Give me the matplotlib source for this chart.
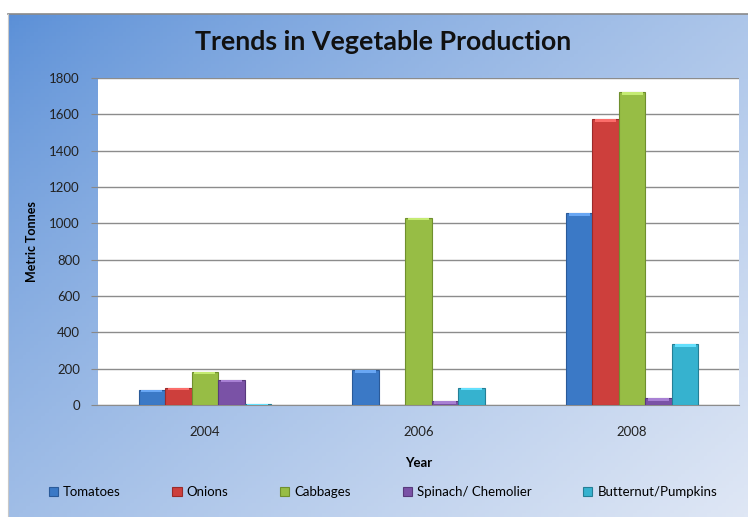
import numpy as np
import matplotlib
matplotlib.use("Agg")
import matplotlib.pyplot as plt
from matplotlib.colors import to_rgb

years = ["2004", "2006", "2008"]
series = ["Tomatoes", "Onions", "Cabbages", "Spinach/ Chemolier", "Butternut/Pumpkins"]
tomatoes = [84, 190, 1055]
onions = [95, 0, 1572]
cabbages = [183, 1030, 1721]
spinach = [140, 20, 37]
butternut = [5, 95, 334]
yticks = [0, 200, 400, 600, 800, 1000, 1200, 1400, 1600, 1800]

values = [tomatoes, onions, cabbages, spinach, butternut]
colors = ["#3b79c6", "#cd3f3c", "#97bd45", "#7a52a6", "#36b2cf"]
edges = ["#2a5a99", "#9a2b2a", "#6f8f2e", "#583a7c", "#247f96"]

plt.rcParams['font.family'] = ['Lato', 'DejaVu Sans']

fig = plt.figure(figsize=(7.48, 5.17), dpi=100)

# gradient background
bg = fig.add_axes([8/748, 0, 740/748, 503/517])
nx, ny = 200, 140
xx, yy = np.meshgrid(np.linspace(0, 1, nx), np.linspace(0, 1, ny))
t = np.clip((xx * 0.55 + yy * 0.45), 0, 1)
c0 = np.array(to_rgb("#5a8fd7"))
c1 = np.array(to_rgb("#dfe7f5"))
t = t ** 0.8
img = c0[None, None, :] * (1 - t[..., None]) + c1[None, None, :] * t[..., None]
bg.imshow(img, aspect='auto', extent=[0, 1, 0, 1], origin='upper')
bg.set_axis_off()
fig.add_artist(plt.Line2D([8/748, 1], [503/517, 503/517], color="#8a8a8a", lw=1.2))
fig.add_artist(plt.Line2D([8/748, 8/748], [0, 503/517], color="#c8c8c8", lw=0.8))

ax = fig.add_axes([98/748, (517-405)/517, 641/748, 327/517])
ax.set_facecolor("white")
x = np.arange(len(years))
w = 0.124
n = len(series)
for i, (vals, col, ec, name) in enumerate(zip(values, colors, edges, series)):
    pos = x + (i - (n - 1) / 2) * w
    ax.bar(pos, vals, width=w, color=col, edgecolor=ec, linewidth=0.8, label=name, zorder=3)
    # bevel highlight at top
    hl = [min(v, 14) for v in vals]
    light = tuple(min(1, c + 0.18) for c in to_rgb(col))
    ax.bar(pos, hl, bottom=np.array(vals) - np.array(hl), width=w * 0.8, color=light,
           linewidth=0, zorder=4)

ax.set_xlim(-0.5, 2.5)
ax.set_ylim(0, 1800)
ax.set_yticks(yticks)
ax.set_xticks(x)
ax.set_xticklabels(years, fontsize=9.5, color="#222222")
ax.tick_params(axis='y', labelsize=9.5, colors="#222222", length=5, color="#888888", pad=8)
ax.tick_params(axis='x', length=0, pad=15)
ax.yaxis.grid(True, color="#8c8c8c", lw=1.0, zorder=1)
for s in ['top', 'right', 'left']:
    ax.spines[s].set_visible(False)
ax.spines['bottom'].set_color("#8c8c8c")
ax.set_ylabel("Metric Tonnes", fontsize=9, fontweight='bold', labelpad=8)
ax.set_xlabel("Year", fontsize=9.5, fontweight='bold', labelpad=14)

fig.text(383/748, 1 - 42/517, "Trends in Vegetable Production", ha='center', va='center',
         fontsize=19.3, fontweight='bold', color="#111111")

handles, labels = ax.get_legend_handles_labels()
leg = fig.legend(handles, labels, loc='center', bbox_to_anchor=(383/748, 1 - 492/517),
                 ncol=5, frameon=False, fontsize=9.5, handlelength=0.7, handleheight=0.7,
                 columnspacing=3.9, handletextpad=0.4)

fig.savefig("out.png", dpi=100)
